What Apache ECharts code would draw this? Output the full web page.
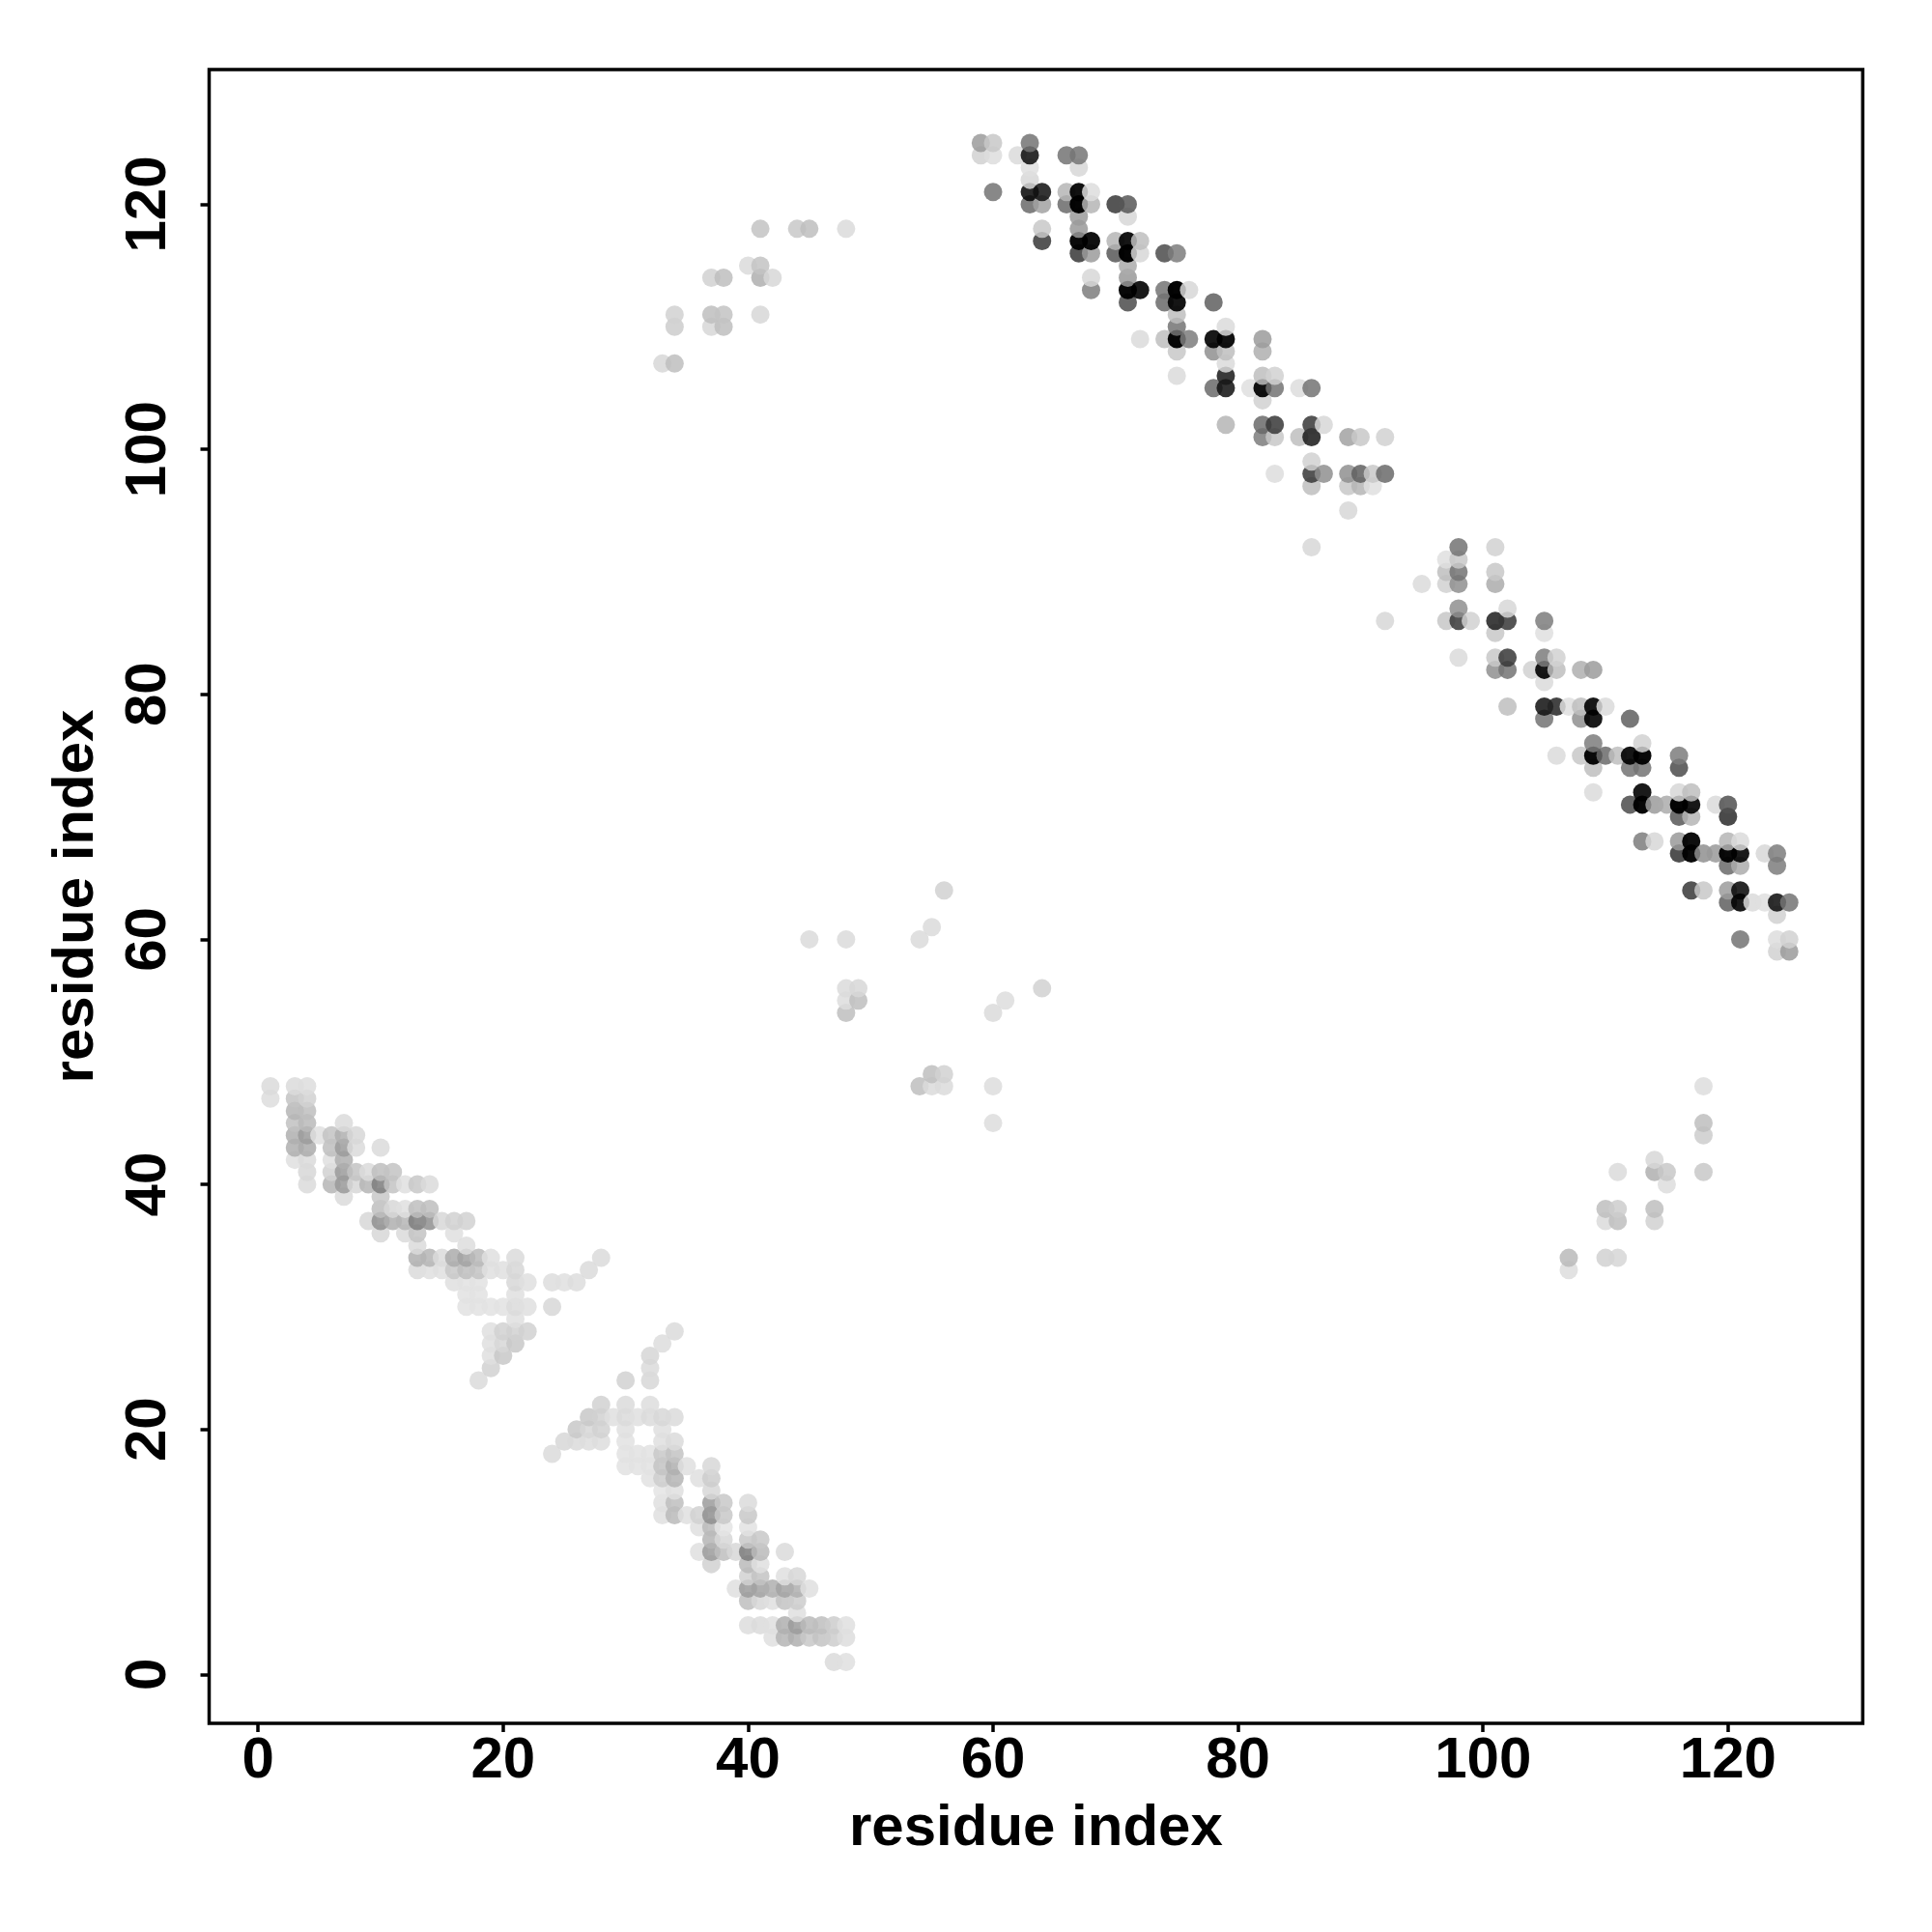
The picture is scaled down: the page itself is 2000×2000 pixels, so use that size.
<!DOCTYPE html>
<html><head><meta charset="utf-8">
<style>html,body{margin:0;padding:0;background:#fff}#c{width:2000px;height:2000px}</style>
<script src="https://cdn.jsdelivr.net/npm/echarts@6/dist/echarts.min.js"></script>
</head><body><div id="c"></div>
<script>
const axisName = 'residue index';
const tickValues = [0,20,40,60,80,100,120];
// Each contact: [residue x, residue y, grey level]
const upperBandA = [
[59,125,0xaa],[60,125,0xd0],[63,125,0x88],
[59,124,0xd8],[60,124,0xe2],[62,124,0xe0],[63,124,0x30],[66,124,0x88],[67,124,0x8a],
[63,123,0xe4],[67,123,0xdd],[63,122,0xdd],
[60,121,0x88],[63,121,0x2a],[64,121,0x33],[66,121,0xc0],[67,121,0x11],[68,121,0xe2],
[63,120,0x80],[64,120,0xb0],[66,120,0x80],[67,120,0x05],[68,120,0xc0],[70,120,0x55],[71,120,0x70],
[67,119,0xaa],[71,119,0xdd],[64,118,0xd0],[67,118,0xa8],
[64,117,0x55],[67,117,0x0a],[68,117,0x11],[70,117,0xc0],[71,117,0x15],[72,117,0xc8],
[67,116,0x55],[68,116,0xaa],[70,116,0x70],[71,116,0x05],[72,116,0xdd],[74,116,0x66],[75,116,0x90],
[71,115,0xb8],[68,114,0xdd],[71,114,0xa8],
[68,113,0x90],[71,113,0x08],[72,113,0x1a],[74,113,0x88],[75,113,0x05],[76,113,0xdd],
[71,112,0x66],[74,112,0x80],[75,112,0x15],[78,112,0x77],
[75,111,0xc8],[75,110,0x88],[79,110,0xe0],
[72,109,0xe0],[74,109,0xc8],[75,109,0x08],[76,109,0x90],[78,109,0x18],[79,109,0x11],[82,109,0xaa],
[75,108,0xd0],[78,108,0xa0],[79,108,0xc8],[82,108,0xbb],[79,107,0xe0],
[75,106,0xe0],[79,106,0x3a],[82,106,0xc8],[83,106,0xd8],
[78,105,0x80],[79,105,0x33],[81,105,0xe4],[82,105,0x11],[83,105,0x88],[85,105,0xe2],[86,105,0x88],
[82,104,0xd8],
[79,102,0xc0],[82,102,0x80],[83,102,0x55],[86,102,0x55],[87,102,0xdd],
[82,101,0x90],[83,101,0xd0],[85,101,0xc8],[86,101,0x3a],[89,101,0xb0],[90,101,0xd0],[92,101,0xd8],
[86,99,0xd8],
[83,98,0xe2],[86,98,0x55],[87,98,0xa0],[89,98,0xa0],[90,98,0x77],[91,98,0xd0],[92,98,0x80],
[86,97,0xc8],[89,97,0xd0],[90,97,0xc0],[91,97,0xe4],
[89,95,0xdd],[86,92,0xdd],[95,89,0xe0],[92,86,0xdd]
];
const upperBandB = [
[98,92,0x88],[101,92,0xd8],[97,91,0xe4],[98,91,0xd0],
[97,90,0xc8],[98,90,0x88],[101,90,0xd0],[97,89,0xd8],[98,89,0xa0],[101,89,0xb8],
[98,87,0xa0],[102,87,0xdd],
[97,86,0xcf],[98,86,0x55],[99,86,0xd8],[101,86,0x3f],[102,86,0x55],[105,86,0x90],
[101,85,0xd0],[105,85,0xe4],
[98,83,0xe0],[101,83,0xd0],[102,83,0x55],[105,83,0x90],[106,83,0xd8],
[101,82,0xa0],[102,82,0x88],[104,82,0xd8],[105,82,0x18],[106,82,0xc8],[108,82,0xbb],[109,82,0xaa],
[105,81,0xe0],
[102,79,0xc8],[105,79,0x33],[106,79,0x44],[107,79,0xe4],[108,79,0xc8],[109,79,0x18],[110,79,0xe0],
[105,78,0x88],[108,78,0xa0],[109,78,0x1a],[112,78,0x77],
[109,76,0x90],[113,76,0xd8],
[106,75,0xe0],[108,75,0xd0],[109,75,0x0a],[110,75,0x80],[111,75,0xc8],[112,75,0x15],[113,75,0x0a],[116,75,0x90],
[109,74,0xc8],[112,74,0x88],[113,74,0x88],[116,74,0x66],
[109,72,0xe0],[113,72,0x1a],[116,72,0xdd],[117,72,0xc8],
[112,71,0x66],[113,71,0x08],[114,71,0xaa],[115,71,0xb8],[116,71,0x05],[117,71,0x18],[119,71,0xe0],[120,71,0x6a],
[116,70,0x70],[117,70,0xc0],[120,70,0x4a],
[113,68,0x90],[114,68,0xdd],[116,68,0xa8],[117,68,0x0e],[120,68,0xc0],[121,68,0xe0],
[116,67,0x50],[117,67,0x0a],[118,67,0xa0],[119,67,0xa8],[120,67,0x0a],[121,67,0x1a],[123,67,0xdd],[124,67,0x90],
[120,66,0x80],[121,66,0xb8],[124,66,0x90],
[117,64,0x55],[118,64,0xd0],[120,64,0xaa],[121,64,0x2a],
[120,63,0x77],[121,63,0x1a],[122,63,0xe0],[123,63,0xe4],[124,63,0x30],[125,63,0x88],
[124,62,0xd8],[121,60,0x88],[124,60,0xe2],[125,60,0xd8],[124,59,0xd8],[125,59,0xaa]
];
const lowerBandA = [
[1,48,0xe0],[3,48,0xe0],[4,48,0xe2],[1,47,0xe2],[3,47,0xcc],[4,47,0xd8],
[3,46,0xc0],[4,46,0xc8],[3,45,0xca],[4,45,0xc4],[7,45,0xe0],
[3,44,0xbb],[4,44,0xaa],[5,44,0xe4],[6,44,0xcc],[7,44,0xbb],[8,44,0xdd],
[3,43,0xbb],[4,43,0xb8],[6,43,0xc8],[7,43,0xaa],[8,43,0xe0],[10,43,0xe0],
[3,42,0xe4],[4,42,0xe0],[6,42,0xe4],[7,42,0xbb],
[4,41,0xdd],[6,41,0xd8],[7,41,0xaa],[8,41,0xcc],[9,41,0xe0],[10,41,0xc8],[11,41,0xcc],
[4,40,0xe0],[6,40,0xc0],[7,40,0xa8],[8,40,0xdd],[9,40,0xc0],[10,40,0x90],[11,40,0xcc],[12,40,0xe4],[13,40,0xd0],[14,40,0xe0],
[7,39,0xe0],[10,39,0xd0],
[10,38,0xc8],[11,38,0xdd],[12,38,0xe4],[13,38,0xc8],[14,38,0xc8],
[9,37,0xdd],[10,37,0xa0],[11,37,0xbb],[12,37,0xc0],[13,37,0x90],[14,37,0xa0],[15,37,0xdd],[16,37,0xd8],[17,37,0xd8],
[10,36,0xdd],[12,36,0xe0],[13,36,0xcc],[16,36,0xe4],[13,35,0xe0],[17,35,0xe2],
[13,34,0xbb],[14,34,0xc0],[15,34,0xe0],[16,34,0xb8],[17,34,0xb0],[18,34,0xc4],[19,34,0xe4],[21,34,0xe0],[28,34,0xe0],
[13,33,0xe0],[14,33,0xe4],[15,33,0xe4],[16,33,0xd0],[17,33,0xc8],[18,33,0xcc],[19,33,0xe4],[20,33,0xe4],[21,33,0xdd],[27,33,0xe0],
[16,32,0xe4],[17,32,0xe6],[18,32,0xe6],[21,32,0xdd],[22,32,0xe4],[24,32,0xe2],[25,32,0xe4],[26,32,0xe2],
[17,31,0xe6],[18,31,0xe6],[21,31,0xe4],
[17,30,0xe6],[18,30,0xe6],[19,30,0xe6],[20,30,0xe6],[21,30,0xe0],[22,30,0xe4],[24,30,0xdd],
[21,29,0xe4],[19,28,0xe4],[20,28,0xd8],[21,28,0xd8],[22,28,0xd8],
[19,27,0xe4],[20,27,0xdd],[21,27,0xd0],[19,26,0xe4],[20,26,0xd0],[19,25,0xd8],[18,24,0xe0]
];
const lowerBandB = [
[34,28,0xe0],[33,27,0xe2],[32,26,0xdc],[32,25,0xe0],[32,24,0xdd],[30,24,0xd8],
[28,22,0xd8],[30,22,0xe0],[32,22,0xe2],
[27,21,0xd0],[28,21,0xd8],[29,21,0xe4],[30,21,0xe0],[31,21,0xe4],[32,21,0xe0],[33,21,0xdd],[34,21,0xe0],
[26,20,0xd0],[27,20,0xdd],[28,20,0xd8],[30,20,0xe4],[33,20,0xe4],
[25,19,0xdd],[26,19,0xe0],[27,19,0xe2],[28,19,0xe2],[30,19,0xe6],[33,19,0xe4],[34,19,0xe0],
[24,18,0xe0],[30,18,0xe6],[31,18,0xe6],[32,18,0xe6],[33,18,0xd0],[34,18,0xcc],
[30,17,0xe6],[31,17,0xe6],[32,17,0xe6],[33,17,0xcc],[34,17,0xbb],[35,17,0xe4],[37,17,0xdd],
[32,16,0xe6],[33,16,0xd4],[34,16,0xc0],[36,16,0xe4],[37,16,0xd4],
[33,15,0xe8],[34,15,0xe4],[37,15,0xdd],
[33,14,0xe4],[34,14,0xc8],[37,14,0xaa],[38,14,0xd0],[40,14,0xe0],
[33,13,0xe4],[34,13,0xc4],[35,13,0xe4],[36,13,0xd8],[37,13,0xa0],[38,13,0xd0],[40,13,0xd0],
[36,12,0xe4],[37,12,0xc4],[38,12,0xe8],[40,12,0xe6],
[37,11,0xc0],[38,11,0xdd],[40,11,0xd0],[41,11,0xd0],
[36,10,0xe4],[37,10,0xaa],[38,10,0xc8],[39,10,0xdd],[40,10,0x90],[41,10,0xc4],[43,10,0xe0],
[37,9,0xd8],[40,9,0xc4],[41,9,0xe4],
[40,8,0xd8],[41,8,0xcc],[43,8,0xe4],[44,8,0xdd],
[39,7,0xe4],[40,7,0xaa],[41,7,0xb0],[42,7,0xbb],[43,7,0xb0],[44,7,0xbb],[45,7,0xe4],
[40,6,0xc8],[41,6,0xdd],[42,6,0xe4],[43,6,0xcc],[44,6,0xd4],[44,5,0xe4],
[40,4,0xe2],[41,4,0xe0],[42,4,0xe4],[43,4,0xbb],[44,4,0xaa],[45,4,0xc4],[46,4,0xc8],[47,4,0xd4],[48,4,0xe4],
[42,3,0xe4],[43,3,0xc0],[44,3,0xbb],[45,3,0xd0],[46,3,0xcc],[47,3,0xd4],[48,3,0xe2],
[47,1,0xe0],[48,1,0xe4]
];
const sparseUpperLeft = [
[41,118,0xcc],[44,118,0xd0],[45,118,0xc8],[48,118,0xe0],[40,115,0xe0],[41,115,0xcc],
[37,114,0xd8],[38,114,0xc8],[41,114,0xbb],[42,114,0xdd],
[34,111,0xd8],[37,111,0xc8],[38,111,0xcc],[41,111,0xdd],[34,110,0xd4],[37,110,0xdd],[38,110,0xc8],
[33,107,0xdd],[34,107,0xc8]
];
const sparseCenter = [
[56,64,0xd8],[55,61,0xe0],[54,60,0xe0],[45,60,0xe0],[48,60,0xe0],[48,56,0xe0],[49,56,0xdd],
[48,55,0xe2],[49,55,0xc8],[48,54,0xc8],[60,54,0xe0],[61,55,0xe2],[64,56,0xd8],
[55,49,0xc8],[56,49,0xd8],[54,48,0xc8],[55,48,0xe0],[56,48,0xe0],[60,48,0xe2],[60,45,0xe2]
];
const sparseRight = [
[118,48,0xe2],[118,45,0xc8],[118,44,0xd4],[114,42,0xdd],[111,41,0xe0],[114,41,0xbb],[115,41,0xd0],[118,41,0xd0],
[115,40,0xe2],[110,38,0xc8],[111,38,0xd4],[114,38,0xc8],[110,37,0xe0],[111,37,0xc8],[114,37,0xd8],
[107,34,0xc4],[110,34,0xd8],[111,34,0xdc],[107,33,0xe2]
];

const points = [].concat(upperBandA, upperBandB, lowerBandA, lowerBandB, sparseUpperLeft, sparseCenter, sparseRight)
  .sort((a, b) => a[0] - b[0] || a[1] - b[1]);

function shade(g) {
  const a = Math.max(0.85, (255 - g) / 255);
  const c = Math.max(0, Math.round(255 - (255 - g) / a));
  return `rgba(${c},${c},${c},${a})`;
}
const font = {fontFamily: '"Liberation Sans", Arial, sans-serif', fontWeight: 'bold', color: '#000'};
const axisBase = {
  type: 'value', min: -4, max: 131, name: axisName, nameLocation: 'middle',
  splitLine: {show: false}, axisLine: {show: false, onZero: false},
  axisTick: {show: true, length: 9, inside: false, customValues: tickValues, lineStyle: {color: '#000', width: 3.5}},
};
const chart = echarts.init(document.getElementById('c'), null, {renderer: 'canvas'});
chart.setOption({
  animation: false,
  backgroundColor: '#fff',
  grid: {show: true, left: 216.5, top: 72, width: 1711.8, height: 1712, borderColor: '#000', borderWidth: 3.5, backgroundColor: 'transparent'},
  xAxis: Object.assign({}, axisBase, {
    nameGap: 79, nameTextStyle: Object.assign({fontSize: 60}, font),
    axisLabel: Object.assign({fontSize: 60, margin: 9, customValues: tickValues}, font)
  }),
  yAxis: Object.assign({}, axisBase, {
    nameGap: 107, nameTextStyle: Object.assign({fontSize: 60}, font),
    axisLabel: Object.assign({fontSize: 60, margin: 32, rotate: 90, customValues: tickValues}, font)
  }),
  series: [{
    type: 'scatter', symbol: 'circle', symbolSize: 19, clip: false, large: false,
    itemStyle: {opacity: 1},
    data: points.map(p => ({value: [p[0], p[1]], itemStyle: {color: shade(p[2]), opacity: 1}}))
  }]
});
</script></body></html>
